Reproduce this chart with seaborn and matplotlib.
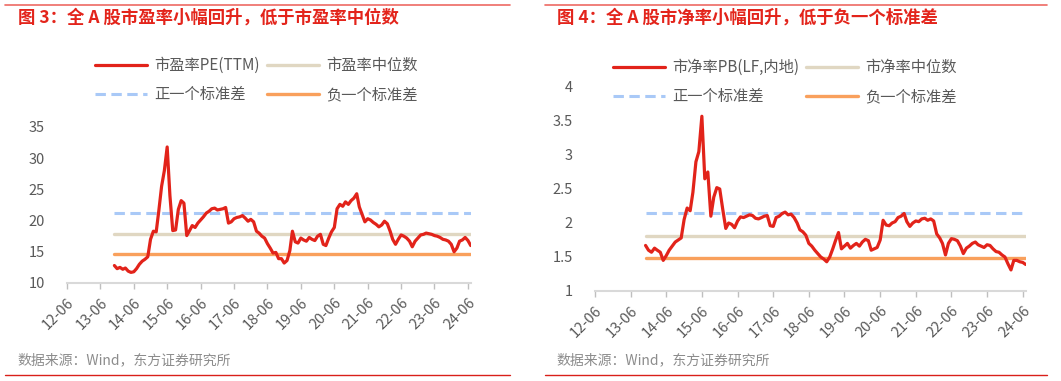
import numpy as np
import pandas as pd
import matplotlib
matplotlib.use("Agg")
import matplotlib.pyplot as plt
from matplotlib.lines import Line2D
from matplotlib.ticker import FuncFormatter
import seaborn as sns

# monthly readings, 2013-11 .. 2024-07
months = pd.date_range("2013-11-01", "2024-07-01", freq="MS")

pe_ttm = [
    12.8, 12.3,
    12.5, 12.2, 12.4, 11.9, 11.7, 11.8, 12.3, 13.0, 13.5, 13.8, 14.2, 17.0,
    18.3, 18.2, 21.5, 25.5, 28.0, 31.8, 24.0, 18.4, 18.5, 21.8, 23.2, 22.8,
    17.6, 18.4, 19.2, 18.9, 19.6, 20.1, 20.6, 21.2, 21.5, 21.9, 22.0, 21.7,
    21.8, 21.9, 22.1, 19.6, 19.8, 20.3, 20.5, 20.6, 20.8, 20.4, 19.9, 20.2,
    19.8, 18.3, 18.0, 17.5, 17.2, 16.3, 15.6, 14.8, 14.9, 13.9, 13.9, 13.2,
    13.6, 15.2, 18.3, 16.6, 16.4, 17.2, 16.9, 16.7, 17.3, 17.0, 16.8, 17.5,
    17.8, 16.2, 16.0, 17.2, 18.2, 18.9, 21.9, 22.6, 22.3, 23.0, 22.6, 23.2,
    23.6, 24.3, 22.2, 21.0, 19.8, 20.3, 20.1, 19.7, 19.4, 19.0, 19.3, 19.9,
    19.5, 18.3, 17.0, 16.2, 17.0, 17.7, 17.5, 17.2, 16.7, 15.8, 16.7, 17.2,
    17.7, 17.8, 18.0, 17.9, 17.8, 17.6, 17.5, 17.3, 17.0, 16.9, 16.7, 16.2,
    15.0, 15.6, 16.7, 16.9, 17.3, 16.8, 16.0,
]

pb_lf = [
    1.67, 1.60,
    1.57, 1.63, 1.60, 1.57, 1.45, 1.52, 1.60, 1.66, 1.72, 1.75, 1.78, 2.05,
    2.22, 2.18, 2.45, 2.90, 3.05, 3.57, 2.65, 2.75, 2.10, 2.38, 2.52, 2.50,
    2.20, 1.92, 2.00, 1.98, 1.93, 2.03, 2.09, 2.08, 2.10, 2.12, 2.11, 2.07,
    2.06, 2.08, 2.10, 2.11, 1.96, 1.95, 2.08, 2.10, 2.14, 2.16, 2.12, 2.13,
    2.08, 2.00, 1.90, 1.87, 1.82, 1.70, 1.66, 1.60, 1.55, 1.50, 1.47, 1.43,
    1.50, 1.62, 1.74, 1.86, 1.62, 1.66, 1.70, 1.63, 1.67, 1.70, 1.66, 1.72,
    1.76, 1.74, 1.60, 1.62, 1.64, 1.75, 2.04, 1.97, 1.96, 2.00, 2.02, 2.08,
    2.10, 2.14, 2.02, 1.95, 2.00, 2.03, 2.02, 2.06, 2.07, 2.04, 2.06, 2.03,
    1.84, 1.78, 1.70, 1.53, 1.70, 1.77, 1.76, 1.74, 1.66, 1.55, 1.63, 1.66,
    1.70, 1.72, 1.68, 1.66, 1.64, 1.68, 1.67, 1.62, 1.58, 1.57, 1.53, 1.50,
    1.40, 1.31, 1.45, 1.45, 1.43, 1.42, 1.39,
]

# median and +/- one standard deviation
pe_levels = [17.9, 21.2, 14.6]
pb_levels = [1.81, 2.15, 1.49]

tick_dates = pd.date_range("2012-06-01", "2024-06-01", freq="12MS")
tick_labels = [d.strftime("%y-%m") for d in tick_dates]

pe_labels = ["市盈率PE(TTM)", "市盈率中位数", "正一个标准差", "负一个标准差"]
pb_labels = ["市净率PB(LF,内地)", "市净率中位数", "正一个标准差", "负一个标准差"]

RED = "#E2231A"
BEIGE = "#E0D7C2"
BLUE = "#A9C9F7"
ORANGE = "#F9A05C"
GREY = "#595959"

sns.set_theme(style="white")
plt.rcParams["font.family"] = ["Noto Sans CJK SC", "DejaVu Sans"]

W, H = 1061, 381
fig = plt.figure(figsize=(W / 100, H / 100), dpi=100)


def px_rect(x0, y0, x1, y1):
    return [x0 / W, 1 - y1 / H, (x1 - x0) / W, (y1 - y0) / H]


def panel(rect, values, levels, labels, yticks, leg_xy, title, tx):
    ax = fig.add_axes(rect)
    d0, d1 = months[0], months[-1]
    med, up, lo = levels
    sns.lineplot(x=[d0, d1], y=[med, med], ax=ax, color=BEIGE, linewidth=2.4, label=labels[1])
    sns.lineplot(x=[d0, d1], y=[up, up], ax=ax, color=BLUE, linewidth=2.2,
                 linestyle=(0, (3.4, 1.8)), label=labels[2])
    sns.lineplot(x=[d0, d1], y=[lo, lo], ax=ax, color=ORANGE, linewidth=2.4, label=labels[3])
    sns.lineplot(x=months, y=values, ax=ax, color=RED, linewidth=2.3, label=labels[0], zorder=5)

    ax.set_xlim(pd.Timestamp("2012-06-01"), pd.Timestamp("2024-07-04"))
    ax.set_ylim(yticks[0], yticks[-1])
    ax.set_yticks(yticks)
    ax.yaxis.set_major_formatter(FuncFormatter(lambda v, p: f"{v:g}"))
    ax.set_xticks(tick_dates)
    ax.set_xticklabels(tick_labels, rotation=45, ha="right", rotation_mode="anchor")
    ax.set_xlabel("")
    ax.set_ylabel("")
    for s in ["top", "right", "left"]:
        ax.spines[s].set_visible(False)
    ax.spines["bottom"].set_color("#D9D9D9")
    ax.spines["bottom"].set_linewidth(1.5)
    ax.tick_params(axis="x", bottom=True, length=4, width=1, color="#BFBFBF",
                   labelsize=10.5, labelcolor=GREY, pad=5)
    ax.tick_params(axis="y", left=False, labelsize=10.5, labelcolor=GREY, pad=10)
    ax.grid(False)

    h, l = ax.get_legend_handles_labels()
    order = [3, 1, 0, 2]
    ax.legend([h[i] for i in order], [l[i] for i in order], ncol=2, frameon=False,
              loc="center left", bbox_to_anchor=leg_xy, bbox_transform=fig.transFigure,
              borderpad=0, borderaxespad=0, handlelength=3.4, handletextpad=0.45,
              columnspacing=0.5, labelspacing=0.8, fontsize=11, labelcolor=GREY)

    fig.text(tx / W, 1 - 18 / H, title, color="#E3241B", fontsize=12.5,
             fontweight="bold", va="center", ha="left")
    fig.text((tx - 1) / W, 1 - 360 / H, "数据来源：Wind，东方证券研究所",
             color="#8C8C8C", fontsize=10, va="center", ha="left")
    return ax


panel(px_rect(67, 127, 471, 283), pe_ttm, pe_levels, pe_labels,
      [10, 15, 20, 25, 30, 35], (95 / W, 1 - 80 / H),
      "图 3：全 A 股市盈率小幅回升，低于市盈率中位数", 18)
panel(px_rect(595, 87, 1026, 291), pb_lf, pb_levels, pb_labels,
      [1, 1.5, 2, 2.5, 3, 3.5, 4], (613 / W, 1 - 82 / H),
      "图 4：全 A 股市净率小幅回升，低于负一个标准差", 557)

# red separators above and below each panel
for x0, x1 in [(5, 510), (545, 1047)]:
    fig.add_artist(Line2D([x0 / W, x1 / W], [1 - 5 / H] * 2, color="#EE6A63",
                          linewidth=1.2, transform=fig.transFigure))
    fig.add_artist(Line2D([x0 / W, x1 / W], [1 - 375 / H] * 2, color="#D9201A",
                          linewidth=1.0, transform=fig.transFigure))

fig.savefig("out.png", dpi=100)
